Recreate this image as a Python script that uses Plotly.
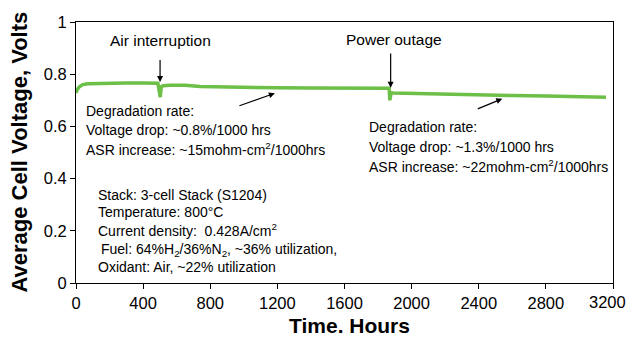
import plotly.graph_objects as go

hours = [0, 8, 20, 40, 70, 120, 200, 300, 400, 470, 488, 496, 502, 508, 520, 560, 650,
         740, 800, 1000, 1200, 1400, 1600, 1800, 1866, 1870, 1874, 1878, 1890, 2000,
         2200, 2400, 2600, 2800, 3000, 3158]
voltage = [0.728, 0.742, 0.752, 0.760, 0.763, 0.764, 0.765, 0.766, 0.766, 0.767, 0.765,
           0.735, 0.712, 0.752, 0.756, 0.758, 0.758, 0.753, 0.752, 0.750, 0.748, 0.747,
           0.746, 0.746, 0.746, 0.700, 0.728, 0.729, 0.728, 0.726, 0.723, 0.720,
           0.718, 0.716, 0.714, 0.712]

x_ticks = [0, 400, 800, 1200, 1600, 2000, 2400, 2800, 3200]
x_tick_labels = ["0", "400", "800", "1200", "1600", "2000", "2400", "2800", "3200"]
y_ticks = [0, 0.2, 0.4, 0.6, 0.8, 1.0]
y_tick_labels = ["0", "0.2", "0.4", "0.6", "0.8", "1"]

FONT = "Liberation Sans, Arial, sans-serif"
TICK_SIZE = 16.5

fig = go.Figure()
fig.add_trace(go.Scatter(x=hours, y=voltage, mode="lines",
                         line=dict(color="#6cbf47", width=3.5), showlegend=False))

ann = []
arrow_style = dict(showarrow=True, arrowhead=2, arrowsize=1, arrowwidth=1.2,
                   arrowcolor="black", text="", xref="x", yref="y", axref="x", ayref="y")
# event arrows
ann.append(dict(x=501, y=0.77, ax=501, ay=0.86, **arrow_style))
ann.append(dict(x=1875, y=0.748, ax=1875, ay=0.885, **arrow_style))
ann.append(dict(x=1185, y=0.727, ax=965, ay=0.677, **arrow_style))
ann.append(dict(x=2540, y=0.706, ax=2385, ay=0.665, **arrow_style))
# event labels
ann.append(dict(x=505, y=0.928, xref="x", yref="y", text="Air interruption", showarrow=False,
                font=dict(size=15.5, color="black")))
ann.append(dict(x=1893, y=0.932, xref="x", yref="y", text="Power outage", showarrow=False,
                font=dict(size=15.5, color="black")))

block1 = ["Degradation rate:", "Voltage drop: ~0.8%/1000 hrs",
          "ASR increase: ~15mohm-cm<sup>2</sup>/1000hrs"]
for i, t in enumerate(block1):
    ann.append(dict(x=45, y=0.658 - i * 0.073, xref="x", yref="y", text=t, showarrow=False,
                    xanchor="left", yanchor="middle", font=dict(size=14, color="black")))

block2 = ["Degradation rate:", "Voltage drop: ~1.3%/1000 hrs",
          "ASR increase: ~22mohm-cm<sup>2</sup>/1000hrs"]
for i, t in enumerate(block2):
    ann.append(dict(x=1737, y=0.598 - i * 0.075, xref="x", yref="y", text=t, showarrow=False,
                    xanchor="left", yanchor="middle", font=dict(size=14, color="black")))

block3 = [("Stack: 3-cell Stack (S1204)", 0),
          ("Temperature: 800°C", 0),
          ("Current density:  0.428A/cm<sup>2</sup>", 0),
          ("Fuel: 64%H<sub>2</sub>/36%N<sub>2</sub>, ~36% utilization,", 18),
          ("Oxidant: Air, ~22% utilization", 0)]
ys3 = [0.338, 0.272, 0.203, 0.128, 0.063]
for (t, dx), yy in zip(block3, ys3):
    ann.append(dict(x=118 + dx, y=yy, xref="x", yref="y", text=t, showarrow=False,
                    xanchor="left", yanchor="middle", font=dict(size=14, color="black")))

# last x tick label drawn as annotation so it stays inside the page
ann.append(dict(x=x_ticks[-1], y=0, xref="x", yref="paper", xshift=-6, yshift=-8,
                text=x_tick_labels[-1], showarrow=False, xanchor="center", yanchor="top",
                font=dict(size=TICK_SIZE, color="black")))

# axis titles
ann.append(dict(x=0, y=0.5, xref="paper", yref="paper", xshift=-57, textangle=-90,
                text="<b>Average Cell Voltage, Volts</b>", showarrow=False,
                xanchor="center", yanchor="middle", font=dict(size=22, color="black")))
ann.append(dict(x=0.5, y=0, xref="paper", yref="paper", yshift=-42, xshift=5,
                text="<b>Time. Hours</b>", showarrow=False,
                xanchor="center", yanchor="middle", font=dict(size=21, color="black")))

fig.update_layout(
    width=626, height=341,
    margin=dict(l=76, r=13, t=22, b=58),
    paper_bgcolor="white", plot_bgcolor="white",
    font=dict(family=FONT, color="black"),
    annotations=ann,
    xaxis=dict(range=[0, 3200], tickvals=x_ticks,
               ticktext=x_tick_labels[:-1] + [""], ticks="outside", ticklen=5,
               tickcolor="black", showline=True, linecolor="black", linewidth=1,
               mirror=True, showgrid=False, zeroline=False,
               automargin=False, tickfont=dict(size=TICK_SIZE, color="black")),
    yaxis=dict(range=[0, 1], tickvals=y_ticks, ticktext=y_tick_labels, ticks="outside",
               ticklen=5, tickcolor="black", showline=True, linecolor="black", linewidth=1,
               mirror=True, showgrid=False, zeroline=False, automargin=False,
               tickfont=dict(size=TICK_SIZE, color="black")),
)

fig.write_html("out.html")
